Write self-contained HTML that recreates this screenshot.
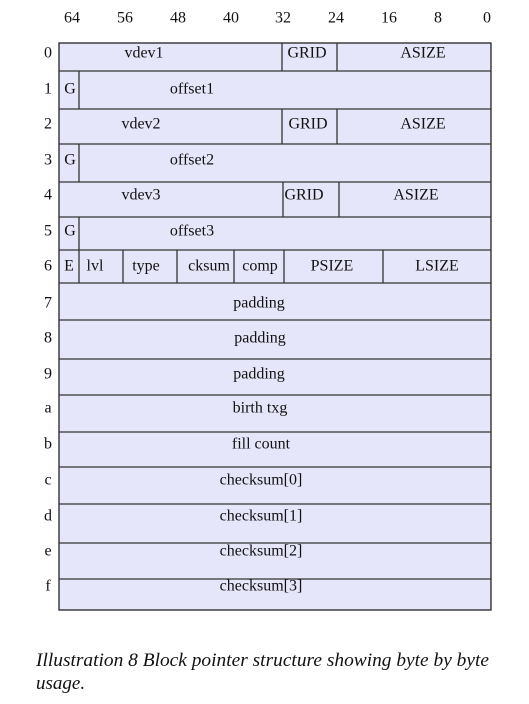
<!DOCTYPE html>
<html><head><meta charset="utf-8"><style>
html,body{margin:0;padding:0;background:#fff;width:529px;height:704px;overflow:hidden}
svg{display:block}
text{font-family:"Liberation Serif",serif;font-size:16px;fill:#111}
</style></head><body>
<svg width="529" height="704" viewBox="0 0 529 704" xmlns="http://www.w3.org/2000/svg">
<rect x="59" y="43" width="432" height="567" fill="#e6e6fa" stroke="#222" stroke-width="1.3"/>
<g stroke="#333" stroke-width="1.3">
<line x1="59" y1="71" x2="491" y2="71"/>
<line x1="59" y1="109" x2="491" y2="109"/>
<line x1="59" y1="144" x2="491" y2="144"/>
<line x1="59" y1="182" x2="491" y2="182"/>
<line x1="59" y1="217" x2="491" y2="217"/>
<line x1="59" y1="250" x2="491" y2="250"/>
<line x1="59" y1="283" x2="491" y2="283"/>
<line x1="59" y1="320" x2="491" y2="320"/>
<line x1="59" y1="359" x2="491" y2="359"/>
<line x1="59" y1="395" x2="491" y2="395"/>
<line x1="59" y1="432" x2="491" y2="432"/>
<line x1="59" y1="467" x2="491" y2="467"/>
<line x1="59" y1="504" x2="491" y2="504"/>
<line x1="59" y1="543" x2="491" y2="543"/>
<line x1="59" y1="579" x2="491" y2="579"/>
<line x1="282" y1="43" x2="282" y2="71"/>
<line x1="337" y1="43" x2="337" y2="71"/>
<line x1="79" y1="71" x2="79" y2="109"/>
<line x1="282" y1="109" x2="282" y2="144"/>
<line x1="337" y1="109" x2="337" y2="144"/>
<line x1="79" y1="144" x2="79" y2="182"/>
<line x1="283" y1="182" x2="283" y2="217"/>
<line x1="339" y1="182" x2="339" y2="217"/>
<line x1="79" y1="217" x2="79" y2="250"/>
<line x1="79" y1="250" x2="79" y2="283"/>
<line x1="123" y1="250" x2="123" y2="283"/>
<line x1="177" y1="250" x2="177" y2="283"/>
<line x1="234" y1="250" x2="234" y2="283"/>
<line x1="284" y1="250" x2="284" y2="283"/>
<line x1="383" y1="250" x2="383" y2="283"/>
</g>
<g text-anchor="middle" dominant-baseline="central">
<text x="72" y="18">64</text><text x="125" y="18">56</text><text x="178" y="18">48</text>
<text x="231" y="18">40</text><text x="283" y="18">32</text><text x="336" y="18">24</text>
<text x="389" y="18">16</text><text x="438" y="18">8</text><text x="487" y="18">0</text>
<text x="48" y="53">0</text><text x="48" y="89">1</text><text x="48" y="124">2</text>
<text x="48" y="160">3</text><text x="48" y="195">4</text><text x="48" y="231">5</text>
<text x="48" y="266">6</text><text x="48" y="303">7</text><text x="48" y="338">8</text>
<text x="48" y="374">9</text><text x="48" y="408">a</text><text x="48" y="444">b</text>
<text x="48" y="480">c</text><text x="48" y="516">d</text><text x="48" y="551">e</text>
<text x="48" y="586">f</text>
<text x="144" y="53">vdev1</text><text x="307" y="53">GRID</text><text x="423" y="53">ASIZE</text>
<text x="70" y="89">G</text><text x="192" y="89">offset1</text>
<text x="141" y="124">vdev2</text><text x="308" y="124">GRID</text><text x="423" y="124">ASIZE</text>
<text x="70" y="160">G</text><text x="192" y="160">offset2</text>
<text x="141" y="195">vdev3</text><text x="304" y="195">GRID</text><text x="416" y="195">ASIZE</text>
<text x="70" y="231">G</text><text x="192" y="231">offset3</text>
<text x="69" y="266">E</text><text x="95" y="266">lvl</text><text x="146" y="266">type</text>
<text x="209" y="266">cksum</text><text x="260" y="266">comp</text><text x="332" y="266">PSIZE</text>
<text x="437" y="266">LSIZE</text>
<text x="259" y="303">padding</text><text x="260" y="338">padding</text><text x="259" y="374">padding</text>
<text x="260" y="408">birth txg</text><text x="261" y="444">fill count</text>
<text x="261" y="480">checksum[0]</text><text x="261" y="516">checksum[1]</text>
<text x="261" y="551">checksum[2]</text><text x="261" y="586">checksum[3]</text>
</g>
<text x="36" y="666" style="font-style:italic;font-size:19px" textLength="453" lengthAdjust="spacingAndGlyphs">Illustration 8 Block pointer structure showing byte by byte</text>
<text x="36" y="689" style="font-style:italic;font-size:19px">usage.</text>
</svg>
</body></html>
